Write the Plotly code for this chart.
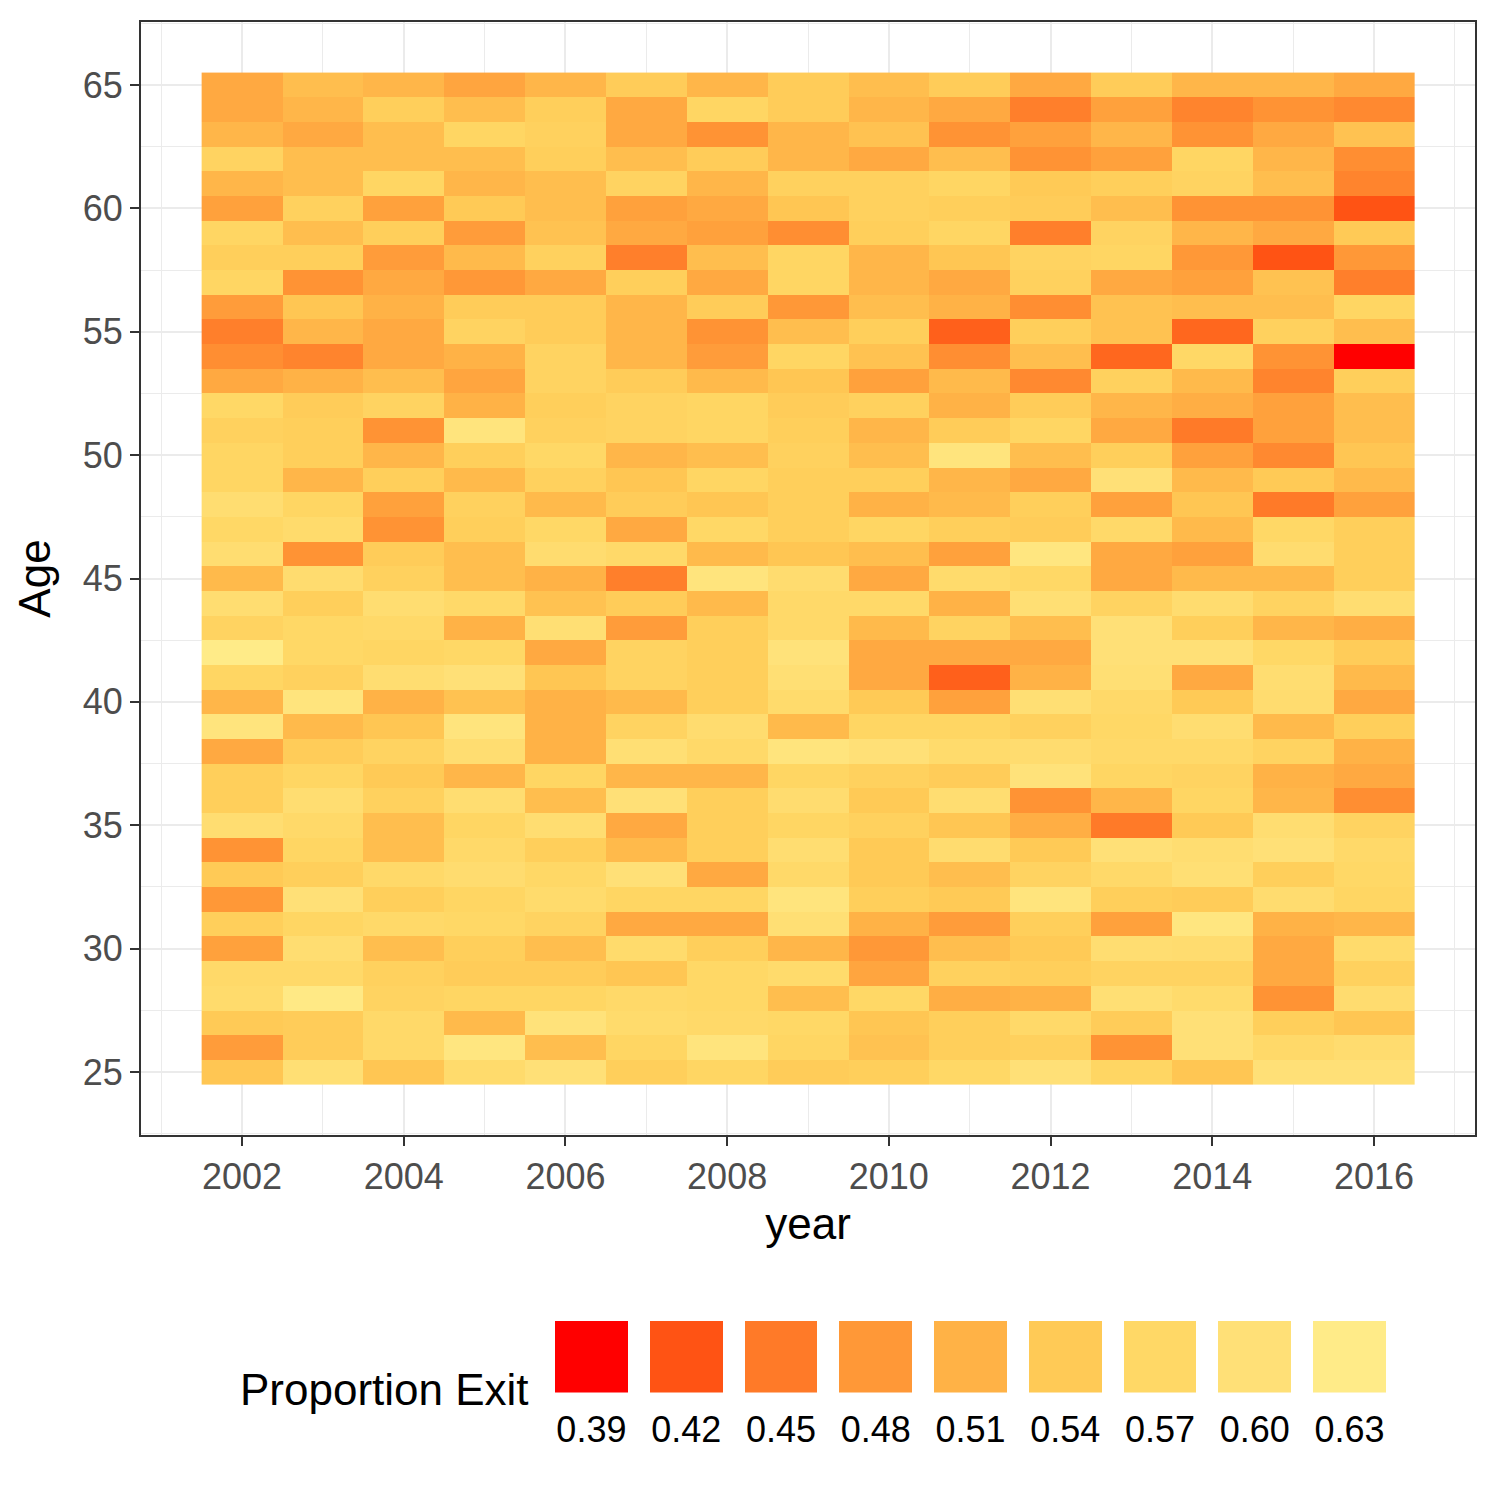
import plotly.graph_objects as go

years = list(range(2002, 2017))
ages_desc = list(range(65, 24, -1))

# proportion exit, one row per age (65 down to 25), columns 2002..2016
exit_rows = [
    [0.50, 0.525, 0.515, 0.495, 0.515, 0.545, 0.515, 0.545, 0.525, 0.545, 0.50, 0.545, 0.515, 0.515, 0.50],   # 65
    [0.50, 0.515, 0.55, 0.525, 0.55, 0.50, 0.565, 0.545, 0.515, 0.50, 0.455, 0.49, 0.46, 0.475, 0.465],       # 64
    [0.515, 0.50, 0.525, 0.565, 0.555, 0.50, 0.475, 0.515, 0.53, 0.475, 0.49, 0.515, 0.475, 0.50, 0.53],      # 63
    [0.56, 0.525, 0.525, 0.525, 0.55, 0.525, 0.545, 0.515, 0.50, 0.525, 0.475, 0.49, 0.565, 0.515, 0.47],     # 62
    [0.515, 0.525, 0.565, 0.515, 0.525, 0.56, 0.515, 0.555, 0.555, 0.565, 0.54, 0.55, 0.56, 0.525, 0.46],     # 61
    [0.49, 0.555, 0.49, 0.54, 0.525, 0.49, 0.50, 0.535, 0.555, 0.55, 0.545, 0.525, 0.475, 0.475, 0.42],       # 60
    [0.565, 0.525, 0.55, 0.485, 0.53, 0.50, 0.49, 0.47, 0.55, 0.565, 0.455, 0.56, 0.515, 0.50, 0.54],         # 59
    [0.55, 0.55, 0.485, 0.52, 0.555, 0.455, 0.525, 0.565, 0.515, 0.535, 0.56, 0.565, 0.48, 0.42, 0.48],       # 58
    [0.565, 0.475, 0.50, 0.48, 0.50, 0.55, 0.50, 0.565, 0.515, 0.50, 0.555, 0.50, 0.49, 0.53, 0.455],         # 57
    [0.485, 0.535, 0.51, 0.545, 0.545, 0.515, 0.545, 0.48, 0.525, 0.51, 0.47, 0.53, 0.525, 0.525, 0.565],     # 56
    [0.455, 0.515, 0.50, 0.56, 0.545, 0.515, 0.475, 0.525, 0.55, 0.43, 0.55, 0.53, 0.435, 0.555, 0.525],      # 55
    [0.47, 0.46, 0.50, 0.51, 0.56, 0.515, 0.485, 0.565, 0.53, 0.47, 0.525, 0.435, 0.57, 0.475, 0.39],         # 54
    [0.50, 0.51, 0.525, 0.495, 0.56, 0.545, 0.52, 0.535, 0.49, 0.52, 0.465, 0.555, 0.52, 0.46, 0.55],         # 53
    [0.57, 0.545, 0.56, 0.51, 0.55, 0.56, 0.565, 0.545, 0.555, 0.51, 0.545, 0.515, 0.505, 0.49, 0.525],       # 52
    [0.555, 0.55, 0.475, 0.61, 0.555, 0.56, 0.565, 0.55, 0.515, 0.545, 0.565, 0.50, 0.45, 0.49, 0.525],       # 51
    [0.565, 0.55, 0.515, 0.55, 0.57, 0.515, 0.525, 0.555, 0.525, 0.61, 0.525, 0.55, 0.49, 0.465, 0.535],      # 50
    [0.565, 0.515, 0.55, 0.52, 0.555, 0.535, 0.565, 0.55, 0.55, 0.515, 0.50, 0.60, 0.52, 0.54, 0.52],         # 49
    [0.59, 0.565, 0.49, 0.555, 0.52, 0.545, 0.535, 0.55, 0.51, 0.52, 0.55, 0.49, 0.535, 0.45, 0.49],          # 48
    [0.57, 0.58, 0.475, 0.55, 0.57, 0.50, 0.57, 0.55, 0.565, 0.55, 0.545, 0.575, 0.52, 0.57, 0.55],           # 47
    [0.59, 0.475, 0.545, 0.525, 0.585, 0.575, 0.52, 0.535, 0.525, 0.49, 0.615, 0.50, 0.49, 0.585, 0.55],      # 46
    [0.52, 0.585, 0.555, 0.525, 0.51, 0.455, 0.61, 0.585, 0.50, 0.58, 0.57, 0.50, 0.52, 0.52, 0.55],          # 45
    [0.59, 0.55, 0.59, 0.575, 0.53, 0.545, 0.52, 0.575, 0.575, 0.51, 0.595, 0.56, 0.585, 0.56, 0.59],         # 44
    [0.56, 0.57, 0.575, 0.51, 0.595, 0.485, 0.55, 0.575, 0.52, 0.56, 0.525, 0.60, 0.55, 0.515, 0.505],        # 43
    [0.635, 0.57, 0.565, 0.57, 0.50, 0.56, 0.55, 0.605, 0.50, 0.50, 0.50, 0.60, 0.60, 0.57, 0.545],           # 42
    [0.565, 0.555, 0.59, 0.60, 0.535, 0.56, 0.55, 0.595, 0.50, 0.43, 0.51, 0.595, 0.50, 0.59, 0.52],          # 41
    [0.515, 0.61, 0.51, 0.53, 0.51, 0.52, 0.55, 0.58, 0.54, 0.49, 0.595, 0.575, 0.54, 0.585, 0.50],           # 40
    [0.61, 0.52, 0.535, 0.61, 0.51, 0.56, 0.585, 0.52, 0.565, 0.565, 0.555, 0.57, 0.59, 0.52, 0.55],          # 39
    [0.50, 0.545, 0.56, 0.59, 0.51, 0.595, 0.575, 0.61, 0.60, 0.58, 0.585, 0.575, 0.575, 0.56, 0.51],         # 38
    [0.55, 0.565, 0.54, 0.515, 0.565, 0.515, 0.515, 0.565, 0.555, 0.545, 0.605, 0.565, 0.56, 0.51, 0.50],     # 37
    [0.55, 0.59, 0.555, 0.59, 0.525, 0.60, 0.55, 0.585, 0.54, 0.59, 0.475, 0.515, 0.565, 0.515, 0.47],        # 36
    [0.59, 0.575, 0.525, 0.565, 0.59, 0.50, 0.55, 0.565, 0.555, 0.535, 0.505, 0.45, 0.54, 0.59, 0.56],        # 35
    [0.475, 0.565, 0.525, 0.575, 0.55, 0.52, 0.55, 0.59, 0.54, 0.585, 0.54, 0.60, 0.59, 0.60, 0.575],         # 34
    [0.54, 0.55, 0.575, 0.585, 0.57, 0.60, 0.50, 0.575, 0.54, 0.525, 0.56, 0.575, 0.595, 0.55, 0.57],         # 33
    [0.48, 0.60, 0.55, 0.565, 0.58, 0.565, 0.565, 0.61, 0.55, 0.54, 0.61, 0.55, 0.545, 0.585, 0.565],         # 32
    [0.55, 0.565, 0.575, 0.57, 0.56, 0.50, 0.50, 0.595, 0.51, 0.485, 0.55, 0.49, 0.615, 0.51, 0.515],         # 31
    [0.49, 0.59, 0.525, 0.55, 0.525, 0.58, 0.55, 0.515, 0.48, 0.525, 0.54, 0.59, 0.585, 0.50, 0.58],          # 30
    [0.575, 0.575, 0.555, 0.545, 0.545, 0.535, 0.57, 0.58, 0.495, 0.555, 0.55, 0.56, 0.56, 0.50, 0.555],      # 29
    [0.58, 0.625, 0.56, 0.565, 0.565, 0.575, 0.57, 0.525, 0.57, 0.505, 0.51, 0.595, 0.58, 0.475, 0.585],      # 28
    [0.54, 0.545, 0.575, 0.52, 0.605, 0.58, 0.575, 0.57, 0.535, 0.55, 0.575, 0.545, 0.60, 0.55, 0.535],       # 27
    [0.485, 0.545, 0.575, 0.615, 0.525, 0.565, 0.61, 0.565, 0.53, 0.55, 0.555, 0.475, 0.60, 0.575, 0.585],    # 26
    [0.535, 0.595, 0.535, 0.58, 0.60, 0.55, 0.565, 0.545, 0.55, 0.57, 0.60, 0.565, 0.535, 0.60, 0.60],        # 25
]

legend_values = [0.39, 0.42, 0.45, 0.48, 0.51, 0.54, 0.57, 0.60, 0.63]
legend_labels = ["0.39", "0.42", "0.45", "0.48", "0.51", "0.54", "0.57", "0.60", "0.63"]
legend_colors = ["#FF0000", "#FF5314", "#FF7A28", "#FF9837", "#FFB246",
                 "#FFCA56", "#FFD866", "#FFE077", "#FFEB88"]

vmin, vmax = legend_values[0], legend_values[-1]
colorscale = [[(v - vmin) / (vmax - vmin), c] for v, c in zip(legend_values, legend_colors)]

ages = ages_desc[::-1]
z = exit_rows[::-1]

FONT = "Liberation Sans, Arial, Helvetica, sans-serif"

fig = go.Figure()
fig.add_trace(go.Heatmap(
    x=years, y=ages, z=z, colorscale=colorscale, zmin=vmin, zmax=vmax,
    showscale=False, xaxis="x", yaxis="y",
))
fig.add_trace(go.Heatmap(
    x=legend_values, y=[0], z=[legend_values], colorscale=colorscale,
    zmin=vmin, zmax=vmax, showscale=False, xgap=22, xaxis="x2", yaxis="y2",
    hoverinfo="skip",
))

# page offset (body margin) of the rendered page
OFF = 8
ML, MR, MT, MB = 141 - OFF, 1500 - (1475 - OFF), 22 - OFF, 20
PLOT_H = 1500 - MT - MB
PLOT_W = 1500 - ML - MR

def py(screen_y):
    return ((1500 - MB) - (screen_y - OFF)) / PLOT_H

def px(screen_x):
    return ((screen_x - OFF) - ML) / PLOT_W

axis_common = dict(
    showline=True, mirror=True, linecolor="#333333", linewidth=2,
    ticks="outside", ticklen=9, tickwidth=2, tickcolor="#333333",
    tickfont=dict(size=36, color="#4D4D4D", family=FONT),
    showgrid=True, gridcolor="#EBEBEB", gridwidth=2.2, zeroline=False,
    automargin=False,
)

fig.update_layout(
    width=1500, height=1500,
    margin=dict(l=ML, r=MR, t=MT, b=MB),
    paper_bgcolor="white", plot_bgcolor="white",
    font=dict(family=FONT, color="black"),
    xaxis=dict(
        **axis_common, domain=[0, 1], anchor="y",
        range=[2000.75, 2017.25], tick0=2002, dtick=2,
        minor=dict(tick0=2001, dtick=2, showgrid=True, gridcolor="#EBEBEB", gridwidth=1.1, ticks=""),
        title=dict(text="year", font=dict(size=44, color="black", family=FONT), standoff=12),
    ),
    yaxis=dict(
        **axis_common, domain=[py(1135), 1], anchor="x",
        range=[22.45, 67.55], tick0=25, dtick=5,
        minor=dict(tick0=27.5, dtick=5, showgrid=True, gridcolor="#EBEBEB", gridwidth=1.1, ticks=""),
        title=dict(text="Age", font=dict(size=44, color="black", family=FONT), standoff=18),
    ),
    xaxis2=dict(
        domain=[px(544), px(1397)], anchor="y2",
        range=[vmin - 0.015, vmax + 0.015],
        tickvals=legend_values, ticktext=legend_labels,
        ticks="outside", ticklen=5, tickcolor="rgba(0,0,0,0)",
        tickfont=dict(size=36, color="black", family=FONT),
        showgrid=False, zeroline=False, showline=False, automargin=False,
        fixedrange=True,
    ),
    yaxis2=dict(
        domain=[py(1392.5), py(1321)], anchor="x2",
        range=[-0.5, 0.5], showticklabels=False, ticks="",
        showgrid=False, zeroline=False, showline=False, automargin=False,
        fixedrange=True,
    ),
    annotations=[dict(
        text="Proportion Exit", xref="paper", yref="paper",
        x=px(531), y=py(1389), xanchor="right", yanchor="middle",
        showarrow=False, font=dict(size=44, color="black", family=FONT),
    )],
)

fig.write_html("out.html")
